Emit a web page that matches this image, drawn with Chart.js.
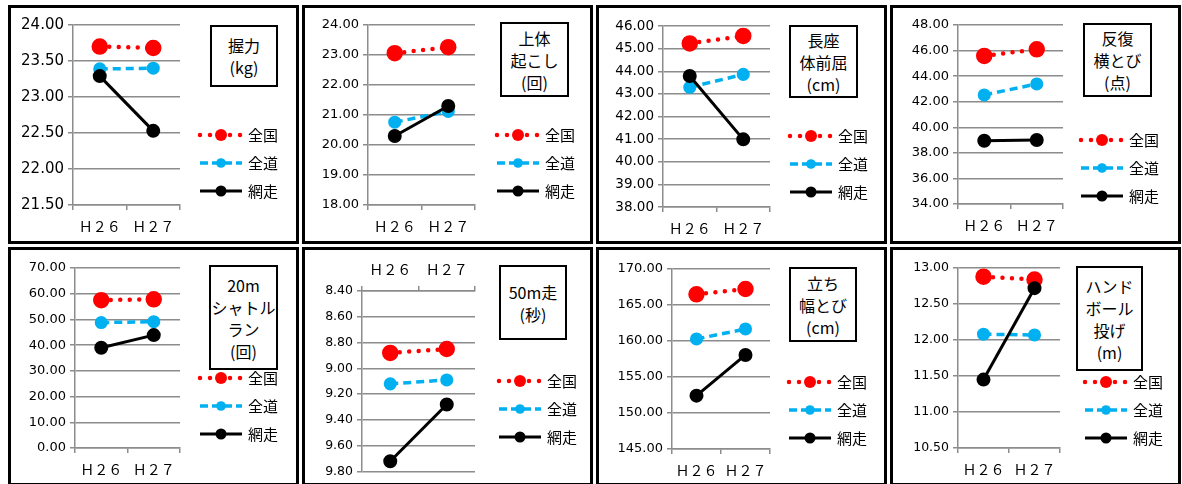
<!DOCTYPE html>
<html lang="ja">
<head>
<meta charset="utf-8">
<script src="https://cdn.jsdelivr.net/npm/chart.js@4.4.1/dist/chart.umd.min.js"></script>
<style>
html, body { margin:0; padding:0; background:#fff; width:1182px; height:484px; overflow:hidden; }
.panel { position:absolute; border:3px solid #000; background:#fff; width:285px; height:233px; }
.panel canvas { position:absolute; left:0; top:0; }
.titulo { position:absolute; border:2px solid #000; box-sizing:border-box; display:flex; flex-direction:column;
  justify-content:center; align-items:center; font-family:"Noto Sans CJK JP"; font-size:16px; line-height:22px; color:#000; background:#fff; }
</style>
</head>
<body>
<script>
// datos
const categorias = ['Ｈ２６', 'Ｈ２７'];
const series = ['全国', '全道', '網走'];
const titulos = [
  ['握力', '(kg)'],
  ['上体', '起こし', '(回)'],
  ['長座', '体前屈', '(cm)'],
  ['反復', '横とび', '(点)'],
  ['20m', 'シャトル', 'ラン', '(回)'],
  ['50m走', '(秒)'],
  ['立ち', '幅とび', '(cm)'],
  ['ハンド', 'ボール', '投げ', '(m)']
];
const zenkoku  = [[23.70, 23.68], [23.06, 23.26], [45.23, 45.56], [45.58, 46.10], [57.5, 57.8], [8.88, 8.85], [166.48, 167.22], [12.88, 12.84]];
const zendo    = [[23.39, 23.40], [20.76, 21.12], [43.29, 43.86], [42.53, 43.39], [48.8, 49.1], [9.12, 9.09], [160.28, 161.67], [12.08, 12.07]];
const abashiri = [[23.29, 22.53], [20.30, 21.30], [43.79, 40.99], [38.95, 39.00], [39.0, 43.9], [9.72, 9.28], [152.41, 158.06], [11.45, 12.72]];
const yMin  = [21.5, 18, 38, 34, 0, 8.4, 145, 10.5];
const yMax  = [24, 24, 46, 48, 70, 9.8, 170, 13];
const yPaso = [0.5, 1, 1, 2, 10, 0.2, 5, 0.5];

// maquetacion
const W = 285, H = 233, XH = 30;
const GRIS = '#8c8c8c';
const panelX = [8, 302, 596, 890];
const panelY = [5, 247];
const cajas = [[62, 17, 169, 197], [63, 17, 170, 197], [64, 18, 171, 199], [65, 17, 170, 196],
               [64, 18, 169, 198], [57, 41, 170, 222], [73, 19, 171, 199], [65, 18, 167, 198]];
const fuenteY = [15, 13, 13.5, 13, 13, 12.5, 13, 12.5];
const cajaTitulo = [[199, 17, 68, 62], [195, 14, 69, 75], [190, 17, 69, 73], [190, 15, 69, 74],
                    [198, 15, 69, 105], [194, 15, 68, 75], [190, 17, 68, 75], [183, 16, 67, 105]];
const leyendaPos = [[189, 127], [192, 127], [191, 128], [188, 132], [189, 128], [194, 131], [190, 132], [192, 132]];

// leyenda a la derecha con la linea y el marcador
const leyendaLateral = {
  id: 'leyendaLateral',
  afterDraw(chart, args, opts) {
    const ctx = chart.ctx;
    chart.data.datasets.forEach((ds, i) => {
      const y = opts.y + i * 28;
      ctx.save();
      ctx.strokeStyle = ds.borderColor;
      ctx.lineWidth = ds.borderWidth;
      ctx.lineCap = ds.borderCapStyle || 'butt';
      ctx.setLineDash(ds.leyendaDash || []);
      ctx.beginPath();
      ctx.moveTo(opts.x, y);
      ctx.lineTo(opts.x + 42, y);
      ctx.stroke();
      ctx.setLineDash([]);
      ctx.fillStyle = ds.pointBackgroundColor;
      ctx.beginPath();
      ctx.arc(opts.x + 21, y, ds.leyendaRadio || ds.pointRadius, 0, Math.PI * 2);
      ctx.fill();
      ctx.fillStyle = '#000';
      ctx.font = '15px "Noto Sans CJK JP"';
      ctx.textBaseline = 'middle';
      ctx.fillText(ds.label, opts.x + 48, y);
      ctx.restore();
    });
  }
};

for (let i = 0; i < 8; i++) {
  const div = document.createElement('div');
  div.className = 'panel';
  div.style.left = panelX[i % 4] + 'px';
  div.style.top = panelY[Math.floor(i / 4)] + 'px';
  const canvas = document.createElement('canvas');
  canvas.width = W;
  canvas.height = H;
  div.appendChild(canvas);

  const t = document.createElement('div');
  t.className = 'titulo';
  const c = cajaTitulo[i];
  t.style.left = c[0] + 'px';
  t.style.top = c[1] + 'px';
  t.style.width = c[2] + 'px';
  t.style.height = c[3] + 'px';
  titulos[i].forEach(linea => {
    const s = document.createElement('span');
    s.textContent = linea;
    t.appendChild(s);
  });
  div.appendChild(t);
  document.body.appendChild(div);

  const arriba = i === 5; // 50m走: eje invertido y etiquetas arriba
  const b = cajas[i];

  new Chart(canvas.getContext('2d'), {
    type: 'line',
    data: {
      labels: categorias,
      datasets: [
        { label: series[0], data: zenkoku[i], borderColor: '#ff0000', pointBackgroundColor: '#ff0000',
          borderWidth: 4.5, borderDash: [0, 9.5], leyendaDash: [0, 10], borderCapStyle: 'round', pointRadius: 6, order: 2 },
        { label: series[1], data: zendo[i], borderColor: '#00b0f0', pointBackgroundColor: '#00b0f0',
          borderWidth: 3.5, borderDash: [8, 5], leyendaDash: [8, 4], pointRadius: 4.8, order: 1 },
        { label: series[2], data: abashiri[i], borderColor: '#000000', pointBackgroundColor: '#000000',
          borderWidth: 3, pointRadius: 5.5, order: 0 }
      ]
    },
    options: {
      responsive: false,
      animation: false,
      devicePixelRatio: 1,
      layout: {
        padding: {
          left: 0,
          top: arriba ? b[1] - XH : b[1],
          right: W - b[2],
          bottom: arriba ? H - b[3] : H - b[3] - XH
        }
      },
      elements: {
        point: { borderWidth: 0, hoverRadius: 6 },
        line: { tension: 0 }
      },
      plugins: {
        legend: { display: false },
        tooltip: { enabled: false },
        leyendaLateral: { x: leyendaPos[i][0], y: leyendaPos[i][1] }
      },
      scales: {
        x: {
          position: arriba ? 'top' : 'bottom',
          offset: true,
          grid: { offset: true, drawOnChartArea: false, tickLength: 5, color: GRIS, lineWidth: 1.5 },
          border: { color: GRIS, width: 1.5 },
          ticks: { font: { family: '"Noto Sans CJK JP"', size: 14 }, color: '#000', padding: 8 },
          afterFit(s) { s.height = XH; }
        },
        y: {
          min: yMin[i],
          max: yMax[i],
          reverse: arriba,
          grid: { color: GRIS, lineWidth: 1.5, tickLength: 5 },
          border: { color: GRIS, width: 1.5 },
          ticks: {
            stepSize: yPaso[i],
            callback: v => v.toFixed(2),
            font: { family: '"DejaVu Sans"', size: fuenteY[i] },
            color: '#000',
            padding: 4
          },
          afterFit(s) { s.width = b[0]; }
        }
      }
    },
    plugins: [leyendaLateral]
  });
}
</script>
</body>
</html>
